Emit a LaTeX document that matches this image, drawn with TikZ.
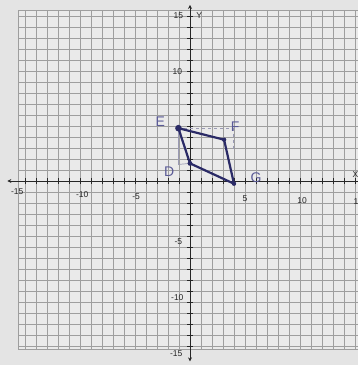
\documentclass[tikz,border=0pt]{standalone}
\usepackage{fontspec}
\setsansfont{Liberation Sans}
\usetikzlibrary{arrows.meta}
\definecolor{bg}{HTML}{E4E4E4}
\definecolor{paper}{HTML}{EAEAEA}
\definecolor{gridc}{HTML}{9E9E9E}
\definecolor{ink}{HTML}{2A2A66}
\definecolor{pencil}{HTML}{5A5A96}
\definecolor{helper}{HTML}{9A9AB4}
\tikzset{
  ticklab/.style={font=\sffamily\fontsize{8.5}{9}\selectfont, text=black!85, inner sep=0pt},
  hand/.style={font=\sffamily\fontsize{14}{15}\selectfont, text=pencil, inner sep=0pt},
  shape edge/.style={draw=ink, line width=2.2pt, line join=round},
  helperline/.style={draw=helper, line width=0.7pt},
  axisline/.style={draw=black!85, line width=0.9pt},
}
\begin{document}
\begin{tikzpicture}[x=11pt,y=11pt]
\useasboundingbox (-17.27,-16.73) rectangle (15.27,16.45);
\fill[bg] (-17.27,-16.73) rectangle (15.27,16.45);
\begin{scope}
\clip (-17.27,-16.73) rectangle (15.27,16.45);
\fill[paper] (-15.6,-15.3) rectangle (15.6,15.5);
\foreach \i in {-15,...,15} {
  \draw[gridc, line width=0.5pt] (\i,-15.3) -- (\i,15.5);
}
\foreach \j in {-15,...,15} {
  \draw[gridc, line width=0.5pt] (-15.6,\j) -- (15.6,\j);
}
\draw[gridc, line width=0.6pt] (-15.6,-15.3) rectangle (15.6,15.5);
% axes
\coordinate (xl) at (-16.6,0);
\coordinate (xr) at (15.4,0);
\coordinate (yb) at (0,-16.4);
\coordinate (yt) at (0,16.0);
\draw[axisline, -{Stealth[length=4pt,width=4pt]}] (xr) -- (xl);
\draw[axisline, {Stealth[length=4pt,width=4pt]}-{Stealth[length=4pt,width=4pt]}] (yb) -- (yt);
\foreach \i in {-15,...,15} {
  \draw[black!85, line width=0.7pt] (\i,-0.25) -- (\i,0.25);
  \draw[black!85, line width=0.7pt] (-0.25,\i) -- (0.25,\i);
}
\end{scope}
% axis labels
\node[ticklab] (xlab) at (15.05,0.55) {X};
\node[ticklab] (ylab) at (0.85,15.05) {Y};
\node[ticklab] (xm15) at (-15.7,-1.0) {-15};
\node[ticklab] (xm10) at (-9.8,-1.2) {-10};
\node[ticklab] (xm5) at (-4.9,-1.4) {-5};
\node[ticklab] (x5) at (5,-1.6) {5};
\node[ticklab] (x10) at (10.2,-1.8) {10};
\node[ticklab] (x15) at (15.1,-1.9) {1};
\node[ticklab] (y15) at (-1.05,15.0) {15};
\node[ticklab] (y10) at (-1.15,9.9) {10};
\node[ticklab] (ym5) at (-1.05,-5.5) {-5};
\node[ticklab] (ym10) at (-1.15,-10.6) {-10};
\node[ticklab] (ym15) at (-1.25,-15.7) {-15};
% shape
\coordinate (E) at (-1.05,4.8);
\coordinate (F) at (3.1,3.75);
\coordinate (G) at (4.0,-0.25);
\coordinate (D) at (0.0,1.6);
\coordinate (h1) at (-1.05,1.5);
\coordinate (h2) at (3.9,4.8);
\coordinate (h3) at (3.9,2.9);
\draw[helperline] (E) -- (h1) -- (D);
\draw[helperline, dashed] (E) -- (h2) -- (h3);
\draw[shape edge] (E) -- (F) -- (G) -- (D) -- cycle;
\fill[ink] (E) circle (0.3);
\fill[ink] (D) circle (0.22);
\fill[ink] (F) circle (0.2);
\fill[ink] (G) circle (0.2);
% labels
\node[hand] (Elab) at (-2.7,5.4) {E};
\node[hand] (Flab) at (4.1,4.9) {F};
\node[hand] (Dlab) at (-1.9,0.8) {D};
\node[hand] (Glab) at (6.0,0.3) {G};
\end{tikzpicture}
\end{document}
